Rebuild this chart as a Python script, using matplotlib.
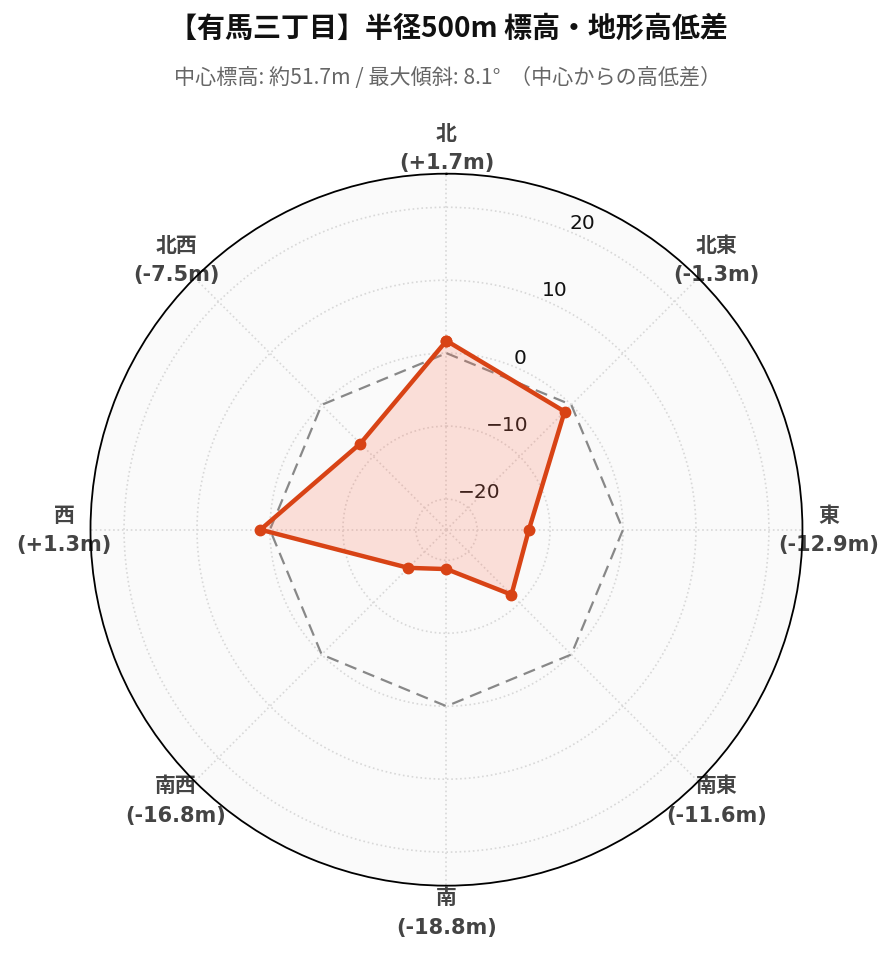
import numpy as np
import matplotlib
matplotlib.use("Agg")
import matplotlib.pyplot as plt

directions = ["北", "北東", "東", "南東", "南", "南西", "西", "北西"]
diffs = [1.7, -1.3, -12.9, -11.6, -18.8, -16.8, 1.3, -7.5]
baseline = [0, 0, 0, 0, 0, 0, 0, 0]
r_ticks = [-20, -10, 0, 10, 20]
title = "【有馬三丁目】半径500m 標高・地形高低差"
subtitle = "中心標高: 約51.7m / 最大傾斜: 8.1°  （中心からの高低差）"

LATIN_CJK = ["DejaVu Sans", "Noto Sans CJK JP"]
CJK_FIRST = ["Noto Sans CJK JP", "DejaVu Sans"]
plt.rcParams['font.family'] = LATIN_CJK

line_color = "#d84315"
fig = plt.figure(figsize=(8.96, 9.62), dpi=100)
ax = fig.add_axes([0.1010, 0.0783, 0.7946, 0.7401], projection="polar")
ax.set_theta_zero_location("N")
ax.set_theta_direction(-1)
ax.set_facecolor("#fafafa")

n = len(directions)
theta = np.arange(n) * 2 * np.pi / n
tc = np.append(theta, theta[0])
vals = np.append(diffs, diffs[0])
base = np.append(baseline, baseline[0])

ax.plot(tc, base, color="#888888", lw=1.6, ls=(0, (5.5, 3.2)), zorder=2)
ax.fill(tc, vals, color="#ff6e50", alpha=0.2, lw=0, zorder=3)
ax.plot(tc, vals, color=line_color, lw=3.2, marker="o", markersize=7.5, zorder=4)

ax.set_ylim(-24.2, 24.6)
ax.set_yticks(r_ticks)
ax.set_yticklabels([f"{t}".replace("-", "\u2212") for t in r_ticks])
ax.set_rlabel_position(22.5)
for lbl in ax.get_yticklabels():
    lbl.set_fontsize(14.5)
    lbl.set_color("#111111")
    lbl.set_ha("left")
    lbl.set_va("bottom")

ax.set_xticks(theta)
labels = [f"{d}\n({v:+.1f}m)" for d, v in zip(directions, diffs)]
ax.set_xticklabels(labels, fontsize=15, fontweight="bold", color="#444444",
                   linespacing=1.6)
ax.tick_params(axis="x", pad=12, length=0)

ax.grid(True, color="#d8d8d8", ls=":", lw=1.2)
ax.spines["polar"].set_color("black")
ax.spines["polar"].set_linewidth(1.3)

fig.text(0.5, 1 - 29 / 962, title, ha="center", va="center", fontsize=20.2,
         fontweight="bold", color="#111111", family=CJK_FIRST)
fig.text(0.5, 1 - 78 / 962, subtitle, ha="center", va="center", fontsize=15.2,
         color="#666666", family=CJK_FIRST)

fig.savefig("out.png", dpi=100)
